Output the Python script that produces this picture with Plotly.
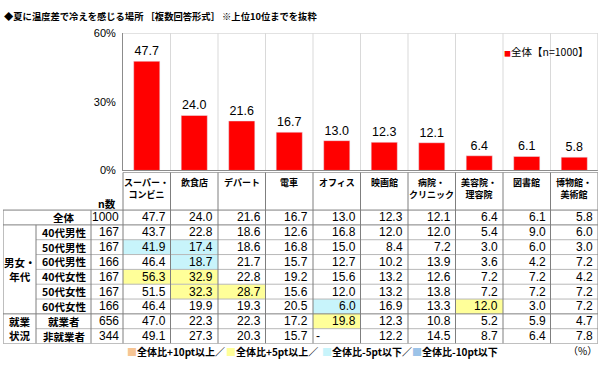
import plotly.graph_objects as go

W, H = 600, 365
FONT = "Noto Sans CJK JP"
NUMFONT = "Liberation Sans, Noto Sans CJK JP"

# ---------------- data ----------------
title_text = "◆夏に温度差で冷えを感じる場所 ［複数回答形式］ ※上位10位までを抜粋"
categories = ["スーパー・<br>コンビニ", "飲食店", "デパート", "電車", "オフィス",
              "映画館", "病院・<br>クリニック", "美容院・<br>理容院", "図書館", "博物館・<br>美術館"]
overall = [47.7, 24.0, 21.6, 16.7, 13.0, 12.3, 12.1, 6.4, 6.1, 5.8]
series_name = "全体【n=1000】"
y_tickvals = [0, 30, 60]
y_ticktext = ["0%", "30%", "60%"]

row_labels = ["全体", "40代男性", "50代男性", "60代男性", "40代女性", "50代女性", "60代女性", "就業者", "非就業者"]
row_n = [1000, 167, 167, 166, 167, 167, 166, 656, 344]
row_all = [47.7, 24.0, 21.6, 16.7, 13.0, 12.3, 12.1, 6.4, 6.1, 5.8]
row_m40 = [43.7, 22.8, 18.6, 12.6, 16.8, 12.0, 12.0, 5.4, 9.0, 6.0]
row_m50 = [41.9, 17.4, 18.6, 16.8, 15.0, 8.4, 7.2, 3.0, 6.0, 3.0]
row_m60 = [46.4, 18.7, 21.7, 15.7, 12.7, 10.2, 13.9, 3.6, 4.2, 7.2]
row_f40 = [56.3, 32.9, 22.8, 19.2, 15.6, 13.2, 12.6, 7.2, 7.2, 4.2]
row_f50 = [51.5, 32.3, 28.7, 15.6, 12.0, 13.2, 13.8, 7.2, 7.2, 7.2]
row_f60 = [46.4, 19.9, 19.3, 20.5, 6.0, 16.9, 13.3, 12.0, 3.0, 7.2]
row_emp = [47.0, 22.3, 22.3, 17.2, 19.8, 12.3, 10.8, 5.2, 5.9, 4.7]
row_non = [49.1, 27.3, 20.3, 15.7, None, 12.2, 14.5, 8.7, 6.4, 7.8]
table_rows = [row_all, row_m40, row_m50, row_m60, row_f40, row_f50, row_f60, row_emp, row_non]
group_labels = ["男女・<br>年代", "就業<br>状況"]
group_spans = [(1, 6), (7, 8)]
legend_labels = ["全体比+10pt以上／", "全体比+5pt以上／", "全体比-5pt以下／", "全体比-10pt以下"]
unit_text = "（%）"

# ---------------- styles ----------------
BAR_COLOR = "#FF0000"
C_P10, C_P5, C_M5, C_M10 = "#F6C594", "#FFFF99", "#C8F4FB", "#9CC3E8"
legend_colors = [C_P10, C_P5, C_M5, C_M10]
DARK = "#7f7f7f"
LIGHT = "#b8b8b8"
GRID = "#d9d9d9"


def px(x):
    return x / W


def py(y):
    return 1 - y / H


# geometry (pixels)
plot_l, plot_r, plot_t, plot_b = 123, 598, 28, 170
tbl_l, tbl_r = 3, 598
hdr_t, body_t, body_b = 172, 211, 349
col_w = (plot_r - plot_l) / 10
row_h = (body_b - body_t) / 9
x2_left = -0.5 - (plot_l - tbl_l) / col_w
y2_top = -0.5 - (body_t - hdr_t) / row_h
x_ncol = -0.5 - 32 / col_w
x_grp = -0.5 - 87 / col_w

fig = go.Figure()
fig.add_trace(go.Bar(
    x=list(range(len(overall))), y=overall, name=series_name,
    marker_color=BAR_COLOR, text=[f"{v:.1f}" for v in overall],
    textposition="outside", textfont=dict(family=NUMFONT, size=12.5, color="#000"),
    cliponaxis=False, showlegend=False, hoverinfo="skip"))
fig.add_trace(go.Scatter(x=[0], y=[0], xaxis="x2", yaxis="y2", mode="markers",
                         marker=dict(opacity=0), showlegend=False, hoverinfo="skip"))

shapes = []
ann = []

# bar chart gridlines / frame
for i in range(len(overall) - 1):
    shapes.append(dict(type="line", xref="x", yref="y", x0=i + 0.5, x1=i + 0.5, y0=0, y1=60,
                       line=dict(color=GRID, width=1), layer="below"))
shapes.append(dict(type="line", xref="x", yref="y", x0=-0.5, x1=9.5, y0=60, y1=60,
                   line=dict(color=GRID, width=1.5)))
shapes.append(dict(type="line", xref="x", yref="y", x0=9.5, x1=9.5, y0=0, y1=60,
                   line=dict(color=GRID, width=1.5)))

# table highlights
for r in range(1, len(table_rows)):
    for c, v in enumerate(table_rows[r]):
        if v is None:
            continue
        d = v - row_all[c]
        col = None
        if d >= 10:
            col = C_P10
        elif d >= 5:
            col = C_P5
        elif d <= -10:
            col = C_M10
        elif d <= -5:
            col = C_M5
        if col:
            shapes.append(dict(type="rect", xref="x2", yref="y2", x0=c - 0.5, x1=c + 0.5,
                               y0=r - 0.5, y1=r + 0.5, fillcolor=col, line=dict(width=0),
                               layer="below"))

# table lines
def hline(y, x0, x1, color):
    shapes.append(dict(type="line", xref="x2", yref="y2", x0=x0, x1=x1, y0=y, y1=y,
                       line=dict(color=color, width=1)))


def vline(x, y0, y1, color):
    shapes.append(dict(type="line", xref="x2", yref="y2", x0=x, x1=x, y0=y0, y1=y1,
                       line=dict(color=color, width=1)))

for y in [1.5, 2.5, 3.5, 4.5, 5.5, 7.5]:
    hline(y, x_grp, 9.5, LIGHT)
hline(y2_top, -0.5, 9.5, DARK)
for y in [-0.5, 0.5, 6.5, 8.5]:
    hline(y, x2_left, 9.5, DARK)
for c in range(11):
    vline(c - 0.5, y2_top, 8.5, DARK)
vline(x_ncol, -0.5, 8.5, DARK)
vline(x2_left, -0.5, 8.5, DARK)
vline(x_grp, 0.5, 8.5, DARK)

# header texts
for c, name in enumerate(categories):
    ann.append(dict(xref="x2", yref="y2", x=c, y=y2_top + 3 / row_h, text=f"<b>{name}</b>",
                    showarrow=False, xanchor="center", yanchor="top", borderpad=0,
                    font=dict(size=9, color="#000")))
ann.append(dict(xref="x2", yref="y2", x=(x_ncol - 0.5) / 2, y=-0.5 - 7 / row_h, text="<b>n数</b>",
                showarrow=False, xanchor="center", yanchor="middle", borderpad=0,
                font=dict(size=10.5, color="#000")))

# row labels, n, values
x_lab = (x_grp + x_ncol) / 2
for r, lab in enumerate(row_labels):
    ann.append(dict(xref="x2", yref="y2", x=x_lab, y=r, text=f"<b>{lab}</b>", showarrow=False,
                    xanchor="center", yanchor="middle", borderpad=0,
                    font=dict(size=10.5, color="#000")))
    ann.append(dict(xref="x2", yref="y2", x=-0.5, y=r, text=str(row_n[r]), showarrow=False,
                    xanchor="right", yanchor="middle", xshift=-3, borderpad=0,
                    font=dict(family=NUMFONT, size=12, color="#000")))
    for c, v in enumerate(table_rows[r]):
        if v is None:
            ann.append(dict(xref="x2", yref="y2", x=c - 0.5, y=r, text="-", showarrow=False,
                            xanchor="left", yanchor="middle", xshift=2, borderpad=0,
                            font=dict(family=NUMFONT, size=12, color="#000")))
        else:
            ann.append(dict(xref="x2", yref="y2", x=c + 0.5, y=r, text=f"{v:.1f}", showarrow=False,
                            xanchor="right", yanchor="middle", xshift=-4, borderpad=0,
                            font=dict(family=NUMFONT, size=12, color="#000")))

x_g = (x2_left + x_grp) / 2
for lab, (a, b) in zip(group_labels, group_spans):
    ann.append(dict(xref="x2", yref="y2", x=x_g, y=(a + b) / 2, text=f"<b>{lab}</b>", showarrow=False,
                    xanchor="center", yanchor="middle", borderpad=0,
                    font=dict(size=10.5, color="#000")))

# title
ann.append(dict(xref="paper", yref="paper", x=px(2), y=py(10), text=f"<b>{title_text}</b>",
                showarrow=False, xanchor="left", yanchor="middle", font=dict(size=9.3, color="#000")))
# series legend
ann.append(dict(xref="paper", yref="paper", x=px(502), y=py(47),
                text=f"<span style='color:{BAR_COLOR};font-size:7px'>■</span>{series_name}",
                showarrow=False, xanchor="left", yanchor="middle", font=dict(size=10.5, color="#000")))
# highlight legend
leg_x = [126, 225, 321, 411]
for x, lab, col in zip(leg_x, legend_labels, legend_colors):
    ann.append(dict(xref="paper", yref="paper", x=px(x), y=py(357),
                    text=f"<span style='color:{col}'>■</span><b>{lab}</b>",
                    showarrow=False, xanchor="left", yanchor="middle", borderpad=0,
                    font=dict(size=10, color="#000")))
ann.append(dict(xref="paper", yref="paper", x=px(598), y=py(356), text=unit_text,
                showarrow=False, xanchor="right", yanchor="middle", borderpad=0,
                font=dict(size=10, color="#000")))

fig.update_layout(
    width=W, height=H, margin=dict(l=0, r=0, t=0, b=0),
    paper_bgcolor="white", plot_bgcolor="white",
    font=dict(family=FONT, color="#000"),
    bargap=0.45, showlegend=False,
    xaxis=dict(domain=[px(plot_l), px(plot_r)], range=[-0.5, 9.5], showticklabels=False,
               showgrid=False, zeroline=False, showline=True, linecolor="#8c8c8c", ticks="",
               fixedrange=True),
    yaxis=dict(domain=[py(plot_b), py(plot_t)], range=[0, 60], tickvals=y_tickvals,
               ticktext=y_ticktext, showgrid=False, zeroline=False, showline=True,
               linecolor="#8c8c8c", ticks="outside", ticklen=4, tickcolor="rgba(0,0,0,0)",
               tickfont=dict(family=NUMFONT, size=11, color="#000"), fixedrange=True),
    xaxis2=dict(domain=[px(tbl_l), px(tbl_r)], range=[x2_left, 9.5], anchor="y2",
                showticklabels=False, showgrid=False, zeroline=False, showline=False, ticks=""),
    yaxis2=dict(domain=[py(body_b), py(hdr_t)], range=[8.5, y2_top], anchor="x2",
                showticklabels=False, showgrid=False, zeroline=False, showline=False, ticks=""),
    shapes=shapes, annotations=ann,
)

fig.write_html("out.html", config={"displayModeBar": False},
               post_script="document.body.style.margin='0';document.body.style.overflow='hidden';")
